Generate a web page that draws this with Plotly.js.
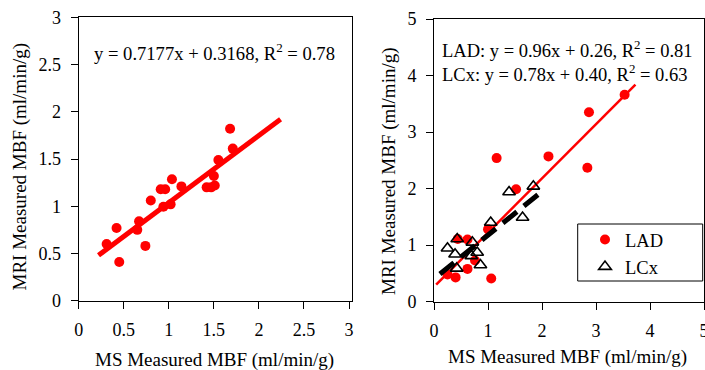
<!DOCTYPE html>
<html>
<head>
<meta charset="utf-8">
<script src="https://cdn.plot.ly/plotly-3.0.1.min.js"></script>
<style>html,body{margin:0;padding:0;background:#fff;}#chart{width:705px;height:370px;}</style>
</head>
<body>
<div id="chart"></div>
<script>
// Left panel: pooled data
var leftX = [0.31, 0.42, 0.45, 0.65, 0.67, 0.74, 0.80, 0.91, 0.96, 0.94, 1.02, 1.035, 1.14, 1.42, 1.47, 1.51, 1.50, 1.55, 1.68, 1.71];
var leftY = [0.60, 0.77, 0.41, 0.75, 0.84, 0.58, 1.06, 1.18, 1.18, 0.995, 1.02, 1.285, 1.21, 1.20, 1.20, 1.22, 1.32, 1.49, 1.82, 1.61];
var leftFitX = [0.22, 2.24];
var leftFitY = [0.48, 1.92];

// Right panel: LAD and LCx
var ladX = [3.53, 2.87, 2.84, 2.12, 1.16, 1.52, 1.00, 0.44, 0.62, 1.06, 0.40, 0.62, 0.25, 0.76];
var ladY = [3.66, 3.35, 2.37, 2.57, 2.54, 1.99, 1.28, 1.11, 1.10, 0.41, 0.43, 0.58, 0.48, 0.73];
var lcxX = [0.25, 0.39, 0.43, 0.71, 0.80, 0.69, 0.86, 0.42, 1.05, 1.39, 1.84, 1.64];
var lcxY = [0.945, 0.84, 1.11, 1.05, 0.87, 0.81, 0.65, 0.59, 1.40, 1.94, 2.04, 1.49];
var ladFitX = [0.04, 3.73];
var ladFitY = [0.30, 3.84];
var lcxFitX = [0.11, 1.96];
var lcxFitY = [0.49, 1.92];

var leftTicks = [0, 0.5, 1, 1.5, 2, 2.5, 3];
var rightTicks = [0, 1, 2, 3, 4, 5];

var FONT = 'Liberation Serif';
var W = 705, H = 370;
function px(v){ return v / W; }
function py(v){ return 1 - v / H; }

var traces = [
  {x: leftX, y: leftY, mode: 'markers', type: 'scatter', xaxis: 'x', yaxis: 'y', showlegend: false,
   marker: {color: '#ff0000', size: 10}},
  {x: leftFitX, y: leftFitY, mode: 'lines', type: 'scatter', xaxis: 'x', yaxis: 'y', showlegend: false,
   line: {color: '#ff0000', width: 5}},
  {x: ladX, y: ladY, mode: 'markers', type: 'scatter', xaxis: 'x2', yaxis: 'y2', name: 'LAD',
   marker: {color: '#ff0000', size: 10}},
  {x: ladFitX, y: ladFitY, mode: 'lines', type: 'scatter', xaxis: 'x2', yaxis: 'y2', showlegend: false,
   line: {color: '#ff0000', width: 2.5}},
  {x: lcxFitX, y: lcxFitY, mode: 'lines', type: 'scatter', xaxis: 'x2', yaxis: 'y2', showlegend: false,
   line: {color: '#000000', width: 5, dash: '18px,9px'}},
  {x: lcxX, y: lcxY, mode: 'markers', type: 'scatter', xaxis: 'x2', yaxis: 'y2', name: 'LCx',
   marker: {color: '#000000', size: 11, symbol: 'triangle-up-open', line: {color: '#000000', width: 1.6}}}
];

var axCommon = {
  showline: true, linecolor: '#000', linewidth: 1, mirror: true,
  ticks: 'outside', ticklen: 7, tickwidth: 1, tickcolor: '#000',
  showgrid: false, zeroline: false, fixedrange: true,
  tickfont: {family: FONT, size: 18, color: '#000'},
  ticklabelstandoff: 6, ticklabeloverflow: 'allow'
};
function ax(extra){ var o = {}; for (var k in axCommon) o[k] = axCommon[k]; for (var k2 in extra) o[k2] = extra[k2]; return o; }

var layout = {
  width: W, height: H,
  margin: {l: 0, r: 0, t: 0, b: 0},
  paper_bgcolor: '#fff', plot_bgcolor: '#fff',
  font: {family: FONT, size: 18, color: '#000'},
  xaxis: ax({domain: [px(78.7), px(352)], range: [0, 3.033], tickmode: 'array', tickvals: leftTicks, anchor: 'y'}),
  yaxis: ax({domain: [py(300.7), py(17.3)], range: [0, 3], tickmode: 'array', tickvals: leftTicks, anchor: 'x'}),
  xaxis2: ax({domain: [px(434), px(704)], range: [0, 5], tickmode: 'array', tickvals: rightTicks, anchor: 'y2'}),
  yaxis2: ax({domain: [py(301.7), py(19)], range: [0, 5], tickmode: 'array', tickvals: rightTicks, anchor: 'x2'}),
  showlegend: true,
  legend: {x: px(585), y: py(221), xanchor: 'left', yanchor: 'top', orientation: 'v',
           bgcolor: 'rgba(0,0,0,0)', borderwidth: 0, tracegroupgap: 0,
           font: {family: FONT, size: 18.5, color: '#000'}},
  shapes: [
    {type: 'rect', xref: 'paper', yref: 'paper', x0: px(577.7), x1: px(702.7), y0: py(281), y1: py(224),
     line: {color: '#000', width: 1}, fillcolor: '#fff', layer: 'above'}
  ],
  annotations: [
    {xref: 'paper', yref: 'paper', x: px(92), y: py(52), xanchor: 'left', yanchor: 'middle', showarrow: false,
     text: 'y = 0.7177x + 0.3168, R<sup>2</sup> = 0.78', font: {family: FONT, size: 18.6, color: '#000'}},
    {xref: 'paper', yref: 'paper', x: px(440), y: py(49), xanchor: 'left', yanchor: 'middle', showarrow: false,
     text: 'LAD: y = 0.96x + 0.26, R<sup>2</sup> = 0.81', font: {family: FONT, size: 18.5, color: '#000'}},
    {xref: 'paper', yref: 'paper', x: px(440), y: py(73), xanchor: 'left', yanchor: 'middle', showarrow: false,
     text: 'LCx: y = 0.78x + 0.40, R<sup>2</sup> = 0.63', font: {family: FONT, size: 18.5, color: '#000'}},
    {xref: 'paper', yref: 'paper', x: px(214), y: py(359.5), xanchor: 'center', yanchor: 'middle', showarrow: false,
     text: 'MS Measured MBF (ml/min/g)', font: {family: FONT, size: 19, color: '#000'}},
    {xref: 'paper', yref: 'paper', x: px(567), y: py(357), xanchor: 'center', yanchor: 'middle', showarrow: false,
     text: 'MS Measured MBF (ml/min/g)', font: {family: FONT, size: 19, color: '#000'}},
    {xref: 'paper', yref: 'paper', x: px(19.5), y: py(167), xanchor: 'center', yanchor: 'middle', showarrow: false,
     textangle: -90, text: 'MRI Measured MBF (ml/min/g)', font: {family: FONT, size: 19, color: '#000'}},
    {xref: 'paper', yref: 'paper', x: px(388.5), y: py(171.5), xanchor: 'center', yanchor: 'middle', showarrow: false,
     textangle: -90, text: 'MRI Measured MBF (ml/min/g)', font: {family: FONT, size: 19, color: '#000'}}
  ]
};

Plotly.newPlot('chart', traces, layout, {displayModeBar: false, staticPlot: true});
</script>
</body>
</html>
